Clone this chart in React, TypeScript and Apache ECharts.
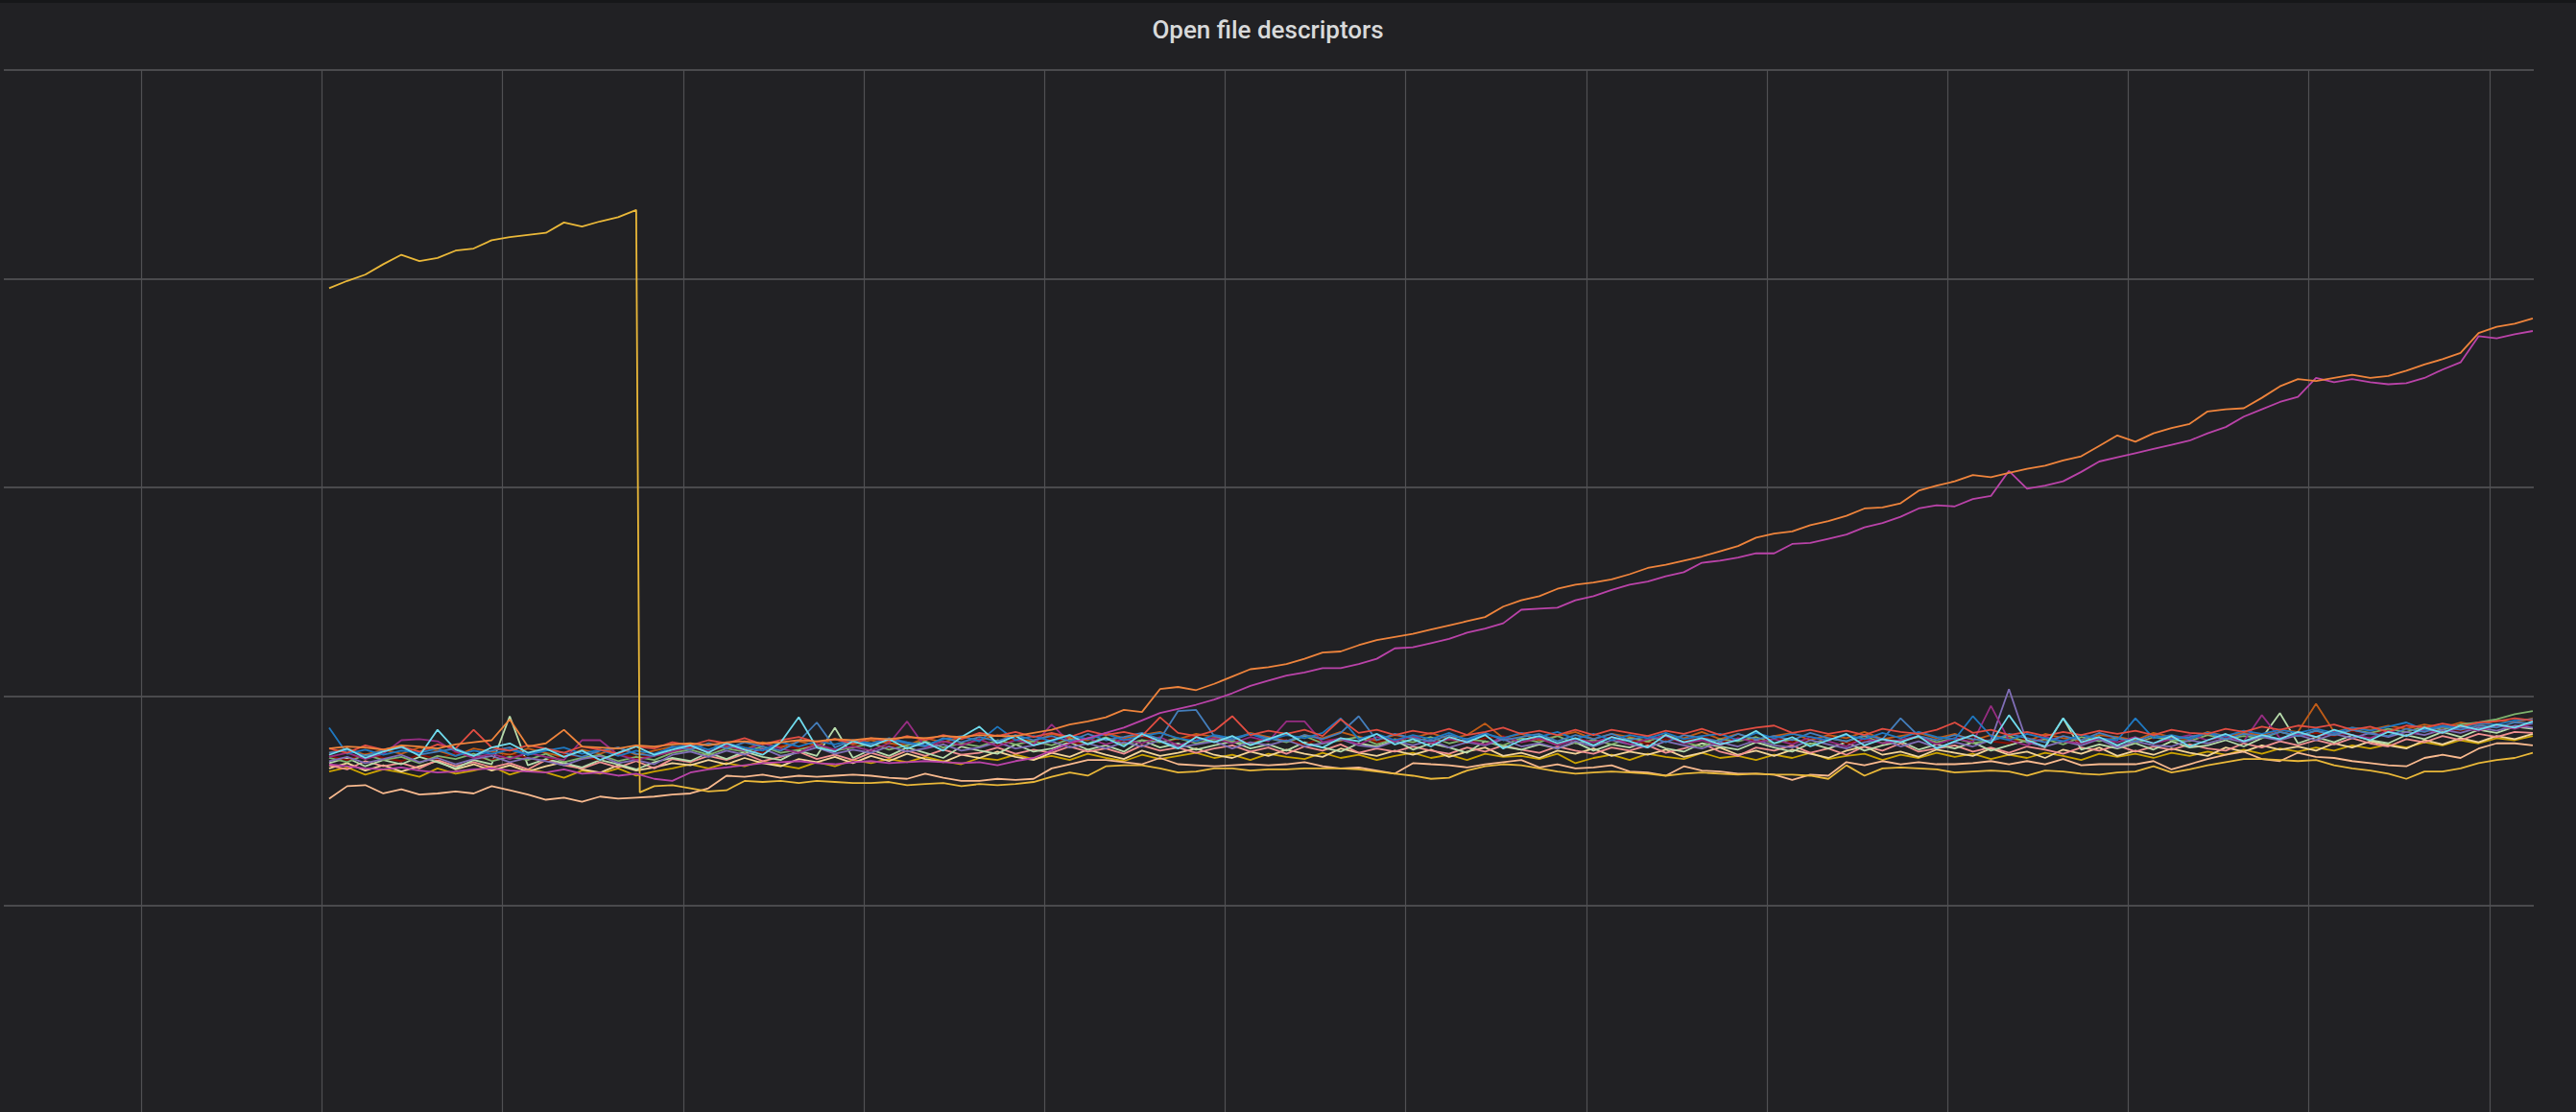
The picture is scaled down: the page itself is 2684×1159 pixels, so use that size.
import React, { useEffect, useRef } from "react";
import * as echarts from "echarts";

const TITLE = "Open file descriptors";
const T_START = 1.04;
const T_STEP = 0.1;
// moment where the high yellow series falls back into the band
const YELLOW_DROP_TIME = 2.76;
const YELLOW_DROP_VALUE = 108;

const yellow = [
  591, 598, 604, 614, 623, 617, 620, 627, 629, 637,
  640, 642, 644, 654, 650, 655, 659, 666, 114, 115,
  112, 109, 110, 119, 118, 119, 117, 119, 118, 117,
  117, 118, 115, 116, 117, 114, 116, 115, 116, 118,
  123, 127, 124, 133, 134, 134, 131, 127, 128, 131,
  131, 129, 130, 130, 131, 131, 131, 130, 128, 126,
  124, 121, 122, 129, 133, 135, 134, 131, 128, 126,
  127, 128, 127, 126, 124, 126, 127, 126, 125, 126,
  125, 125, 124, 121, 134, 124, 131, 132, 131, 130,
  127, 128, 129, 128, 124, 129, 128, 126, 125, 127,
  128, 133, 127, 130, 134, 137, 140, 140, 139, 138,
  139, 134, 131, 129, 126, 121, 128, 128, 131, 136,
  139, 141, 146,
];

const orange = [
  150, 152, 151, 149, 153, 152, 150, 154, 156, 158,
  178, 152, 155, 168, 152, 151, 150, 153, 152, 154,
  155, 153, 156, 157, 155, 156, 158, 157, 159, 158,
  160, 159, 161, 160, 162, 161, 163, 162, 162, 165,
  168, 173, 176, 180, 187, 185, 207, 209, 206, 212,
  219, 226, 228, 231, 236, 242, 243, 249, 254, 257,
  260, 264, 268, 272, 276, 286, 292, 296, 303, 307,
  309, 312, 317, 323, 326, 330, 334, 339, 344, 352,
  356, 358, 364, 368, 373, 380, 381, 385, 397, 402,
  406, 412, 410, 414, 418, 421, 426, 430, 440, 450,
  444, 452, 457, 461, 473, 475, 476, 486, 497, 504,
  502, 505, 508, 505, 507, 512, 518, 523, 529, 548,
  554, 557, 562,
];

const magenta = [
  135, 133, 131, 130, 132, 129, 127, 128, 130, 131,
  129, 128, 127, 130, 126, 127, 124, 126, 121, 119,
  127, 130, 132, 134, 136, 137, 138, 136, 135, 137,
  138, 136, 137, 138, 137, 136, 137, 134, 138, 141,
  148, 155, 160, 165, 170, 177, 184, 188, 192, 197,
  203, 210, 215, 220, 223, 227, 227, 231, 236, 246,
  247, 251, 255, 261, 265, 270, 283, 284, 285, 292,
  296, 302, 307, 310, 315, 319, 328, 330, 333, 337,
  337, 346, 347, 351, 355, 362, 366, 372, 380, 383,
  382, 389, 392, 416, 399, 402, 406, 415, 425, 429,
  433, 437, 441, 445, 452, 458, 468, 475, 482, 487,
  505, 501, 504, 501, 499, 500, 505, 513, 520, 545,
  543, 547, 550,
];

const peach = [
  102, 114, 115, 107, 111, 106, 107, 109, 107, 114,
  110, 106, 101, 103, 99, 104, 102, 103, 104, 106,
  107, 112, 124, 123, 125, 122, 124, 123, 124, 125,
  124, 122, 121, 126, 122, 119, 119, 121, 120, 121,
  131, 135, 139, 139, 137, 135, 141, 135, 134, 133,
  134, 135, 134, 135, 137, 133, 131, 132, 129, 126,
  136, 135, 134, 132, 135, 137, 139, 132, 135, 131,
  132, 134, 128, 127, 124, 133, 129, 128, 126, 126,
  125, 120, 125, 124, 137, 134, 138, 135, 137, 135,
  135, 136, 138, 135, 138, 135, 140, 134, 135, 135,
  135, 138, 130, 135, 140, 144, 147, 140, 138, 146,
  142, 141, 138, 136, 134, 133, 141, 144, 141, 150,
  155, 155, 153,
];

const red = [
  150, 146, 153, 149, 152, 147, 154, 150, 168, 151,
  148, 153, 150, 146, 152, 149, 145, 152, 150, 156,
  153, 158, 155, 160, 154, 158, 161, 156, 159, 155,
  160, 157, 162, 158, 163, 159, 165, 162, 166, 161,
  165, 161, 167, 163, 166, 162, 180, 165, 162, 167,
  181, 163, 167, 164, 168, 162, 178, 165, 168, 163,
  167, 164, 169, 163, 166, 170, 164, 167, 163, 168,
  163, 168, 165, 162, 167, 164, 169, 163, 167, 170,
  172, 165, 168, 164, 167, 163, 169, 166, 164, 168,
  175, 165, 168, 163, 166, 162, 166, 163, 167, 164,
  167, 163, 168, 165, 164, 169, 166, 171, 168, 172,
  170, 173, 168, 171, 166, 172, 170, 174, 171, 175,
  176, 179, 177,
];

const blue = [
  170, 145, 149, 144, 148, 146, 150, 143, 148, 145,
  149, 144, 148, 151, 145, 149, 143, 148, 145, 151,
  154, 149, 155, 151, 148, 156, 152, 157, 154, 158,
  155, 160, 156, 153, 159, 162, 157, 171, 158, 162,
  157, 163, 159, 164, 158, 162, 165, 160, 157, 163,
  160, 164, 158, 163, 160, 165, 179, 159, 164, 158,
  163, 159, 165, 158, 164, 160, 165, 161, 166, 159,
  164, 158, 163, 160, 165, 159, 162, 164, 158, 165,
  160, 164, 161, 158, 163, 159, 165, 160, 166, 161,
  159, 181, 162, 158, 164, 160, 157, 163, 160, 158,
  179, 160, 163, 159, 165, 162, 167, 164, 168, 165,
  169, 165, 170, 167, 171, 175, 168, 172, 170, 174,
  173, 177, 178,
];

const cyan = [
  144, 150, 141, 147, 152, 143, 168, 149, 143, 151,
  155, 146, 150, 142, 148, 139, 146, 152, 144, 149,
  153, 146, 155, 149, 144, 156, 180, 151, 147, 157,
  152, 159, 150, 156, 148, 161, 171, 155, 162, 153,
  158, 163, 154, 160, 152, 164, 157, 150, 161, 156,
  162, 153, 159, 165, 155, 151, 160, 157, 164, 154,
  159, 152, 161, 156, 163, 150, 158, 162, 155, 160,
  153, 161, 157, 151, 163, 156, 160, 154, 158, 167,
  155, 161, 152, 158, 164, 153, 159, 156, 162, 150,
  157, 163, 155, 182, 158, 152, 179, 156, 161, 153,
  160, 155, 162, 152, 158, 164, 157, 163, 159, 166,
  161, 168, 163, 158, 166, 162, 170, 165, 172, 168,
  173, 170, 176,
];

const steelBlue = [
  146, 149, 143, 148, 151, 144, 147, 150, 143, 148,
  151, 144, 149, 146, 142, 148, 151, 145, 143, 152,
  149, 155, 150, 156, 152, 148, 157, 175, 151, 158,
  153, 159, 155, 152, 160, 156, 161, 157, 163, 158,
  162, 157, 164, 158, 161, 165, 159, 186, 187, 162,
  158, 164, 160, 157, 163, 159, 165, 181, 158, 164,
  160, 157, 163, 159, 165, 158, 161, 164, 157, 163,
  159, 164, 158, 162, 156, 163, 160, 157, 164, 159,
  162, 158, 165, 160, 157, 163, 159, 179, 162, 158,
  163, 159, 157, 164, 160, 156, 162, 158, 165, 160,
  157, 163, 159, 161, 165, 159, 164, 161, 166, 162,
  167, 163, 168, 164, 162, 169, 166, 171, 168, 172,
  170, 175, 174,
];

const plum = [
  142, 146, 140, 145, 158, 159, 157, 147, 141, 145,
  140, 146, 142, 139, 158, 158, 144, 139, 143, 147,
  152, 147, 153, 148, 155, 150, 146, 154, 149, 152,
  148, 155, 176, 151, 157, 153, 159, 152, 158, 154,
  173, 156, 160, 154, 159, 155, 161, 153, 158, 160,
  155, 161, 157, 176, 176, 156, 160, 154, 161, 157,
  162, 155, 159, 157, 154, 161, 156, 160, 153, 159,
  156, 161, 154, 159, 162, 155, 158, 153, 160, 156,
  159, 154, 161, 157, 152, 160, 155, 158, 162, 154,
  160, 156, 191, 158, 153, 161, 157, 155, 160, 156,
  161, 155, 159, 163, 158, 162, 157, 182, 160, 164,
  161, 166, 163, 160, 167, 162, 168, 165, 170, 167,
  172, 169, 174,
];

const lavender = [
  138, 142, 136, 140, 144, 137, 141, 135, 140, 143,
  137, 141, 138, 134, 140, 143, 136, 139, 135, 144,
  147, 142, 148, 144, 150, 143, 146, 151, 145, 149,
  146, 152, 147, 150, 154, 148, 151, 156, 150, 153,
  157, 151, 155, 150, 156, 152, 158, 151, 154, 157,
  150, 156, 153, 158, 152, 155, 159, 153, 151, 157,
  153, 158, 151, 156, 153, 159, 152, 155, 150, 157,
  152, 158, 154, 151, 157, 153, 150, 156, 152, 158,
  153, 151, 158, 154, 150, 156, 159, 152, 157, 151,
  156, 152, 158, 207, 156, 152, 157, 153, 159, 151,
  157, 153, 152, 158, 155, 160, 156, 161, 158, 163,
  158, 164, 160, 165, 161, 166, 163, 168, 165, 170,
  167, 172, 170,
];

const green = [
  141, 137, 144, 139, 142, 136, 143, 140, 145, 138,
  142, 139, 145, 137, 141, 144, 138, 142, 139, 146,
  149, 144, 150, 147, 152, 146, 149, 153, 148, 151,
  155, 149, 153, 157, 151, 155, 152, 158, 154, 157,
  153, 159, 155, 161, 154, 158, 156, 160, 155, 159,
  157, 154, 160, 156, 162, 155, 158, 161, 154, 159,
  156, 161, 155, 159, 157, 153, 160, 156, 162, 155,
  158, 154, 160, 157, 163, 156, 152, 159, 157, 161,
  155, 159, 154, 160, 157, 162, 155, 158, 161, 156,
  160, 155, 158, 162, 156, 159, 154, 161, 157, 160,
  155, 161, 158, 157, 163, 159, 162, 160, 166, 162,
  167, 163, 168, 165, 169, 166, 171, 168, 173, 175,
  178, 183, 186,
];

const rust = [
  146, 150, 144, 149, 145, 151, 148, 143, 150, 147,
  144, 150, 146, 142, 149, 145, 151, 144, 148, 152,
  150, 155, 152, 149, 156, 151, 157, 153, 159, 154,
  158, 155, 153, 160, 156, 161, 158, 163, 159, 157,
  164, 160, 158, 165, 160, 163, 166, 159, 164, 161,
  158, 165, 161, 157, 163, 160, 166, 161, 158, 163,
  160, 165, 159, 163, 174, 160, 164, 158, 162, 166,
  159, 164, 161, 157, 163, 160, 166, 159, 164, 158,
  162, 165, 158, 163, 160, 166, 159, 162, 165, 160,
  164, 158, 163, 160, 157, 164, 160, 158, 163, 161,
  158, 165, 161, 159, 166, 162, 165, 163, 168, 166,
  193, 166, 170, 168, 172, 169, 173, 170, 175, 172,
  177, 175, 179,
];

const maroon = [
  143, 139, 145, 141, 138, 144, 140, 146, 142, 139,
  145, 141, 138, 144, 142, 139, 145, 141, 143, 147,
  151, 147, 152, 149, 146, 153, 150, 154, 148, 152,
  155, 151, 156, 152, 157, 154, 158, 153, 159, 155,
  160, 156, 154, 160, 157, 162, 156, 159, 161, 157,
  160, 155, 161, 158, 154, 160, 157, 162, 156, 159,
  161, 156, 159, 155, 160, 162, 156, 159, 154, 160,
  156, 161, 158, 155, 159, 157, 162, 156, 160, 158,
  161, 156, 159, 162, 155, 158, 160, 157, 161, 156,
  159, 162, 157, 155, 160, 158, 162, 156, 159, 161,
  157, 160, 162, 158, 163, 160, 164, 161, 166, 163,
  165, 162, 167, 164, 168, 172, 166, 170, 167, 171,
  173, 171, 175,
];

const mint = [
  136, 141, 133, 139, 135, 142, 137, 131, 139, 135,
  181, 134, 140, 136, 132, 139, 135, 130, 137, 141,
  138, 146, 140, 147, 142, 139, 148, 143, 170, 141,
  149, 143, 151, 146, 141, 152, 148, 145, 154, 147,
  150, 156, 149, 153, 147, 158, 151, 155, 149, 153,
  157, 150, 154, 148, 156, 151, 147, 155, 152, 158,
  149, 155, 151, 146, 157, 152, 149, 154, 150, 156,
  148, 154, 151, 157, 150, 147, 155, 152, 149, 156,
  151, 147, 155, 150, 156, 148, 153, 157, 149, 154,
  150, 156, 148, 153, 158, 151, 179, 149, 154, 150,
  155, 149, 157, 151, 153, 158, 152, 160, 184, 155,
  161, 156, 163, 158, 155, 163, 159, 166, 161, 168,
  165, 171, 169,
];

const pink = [
  134, 130, 138, 133, 136, 131, 139, 133, 137, 132,
  136, 130, 139, 134, 131, 137, 132, 138, 131, 140,
  137, 143, 139, 145, 138, 142, 147, 140, 144, 139,
  146, 141, 148, 143, 149, 144, 146, 151, 145, 149,
  146, 152, 147, 150, 145, 153, 148, 151, 146, 150,
  153, 147, 151, 145, 152, 148, 154, 146, 150, 147,
  152, 148, 145, 151, 147, 153, 149, 146, 152, 148,
  145, 151, 148, 153, 146, 150, 155, 147, 143, 151,
  148, 153, 146, 150, 144, 152, 148, 155, 147, 150,
  153, 147, 151, 146, 152, 149, 145, 151, 148, 153,
  147, 152, 149, 154, 150, 148, 155, 151, 157, 153,
  158, 154, 160, 155, 152, 159, 156, 162, 158, 164,
  161, 166, 165,
];

const cream = [
  131, 136, 129, 134, 128, 133, 138, 130, 135, 129,
  134, 128, 133, 137, 130, 127, 134, 129, 132, 136,
  134, 139, 135, 141, 136, 133, 140, 137, 142, 136,
  143, 138, 145, 140, 137, 144, 141, 147, 142, 139,
  146, 142, 149, 144, 140, 148, 143, 146, 150, 144,
  141, 147, 143, 149, 145, 142, 150, 146, 143, 148,
  144, 149, 142, 147, 151, 143, 146, 141, 148, 145,
  150, 143, 147, 144, 149, 142, 146, 151, 144, 148,
  143, 149, 145, 141, 148, 152, 144, 147, 142, 149,
  146, 143, 150, 144, 147, 141, 149, 145, 151, 143,
  148, 144, 150, 146, 143, 151, 147, 153, 149, 152,
  148, 155, 151, 157, 153, 150, 158, 154, 160, 156,
  162, 159, 164,
];

const mustard = [
  128, 132, 125, 130, 127, 123, 131, 126, 129, 133,
  125, 130, 127, 122, 129, 126, 131, 124, 128, 131,
  135, 131, 136, 133, 138, 134, 131, 137, 133, 139,
  136, 140, 137, 142, 138, 135, 141, 139, 144, 140,
  143, 139, 145, 141, 138, 144, 140, 143, 146, 141,
  144, 139, 145, 142, 140, 146, 141, 144, 139, 143,
  146, 141, 144, 139, 145, 142, 143, 140, 145, 136,
  141, 144, 139, 145, 142, 140, 146, 141, 143, 139,
  144, 141, 146, 140, 143, 145, 139, 144, 141, 146,
  142, 145, 140, 144, 141, 146, 143, 139, 145, 142,
  145, 141, 146, 143, 147, 144, 149, 145, 150, 147,
  151, 148, 153, 150, 154, 151, 156, 153, 158, 155,
  160, 158, 162,
];

const SERIES = [
  { name: "s05", color: "#CCA300", values: mustard },
  { name: "s06", color: "#F4D598", values: cream },
  { name: "s07", color: "#F29191", values: pink },
  { name: "s08", color: "#B7DBAB", values: mint },
  { name: "s09", color: "#890F02", values: maroon },
  { name: "s10", color: "#C15C17", values: rust },
  { name: "s11", color: "#7EB26D", values: green },
  { name: "s12", color: "#806EB7", values: lavender },
  { name: "s13", color: "#962D82", values: plum },
  { name: "s14", color: "#447EBC", values: steelBlue },
  { name: "s15", color: "#1F78C1", values: blue },
  { name: "s16", color: "#E24D42", values: red },
  { name: "s17", color: "#70DBED", values: cyan },
  { name: "s04", color: "#F9BA8F", values: peach },
  { name: "s01", color: "#EAB839", values: yellow },
  { name: "s03", color: "#BA43A9", values: magenta },
  { name: "s02", color: "#EF843C", values: orange },
];

const GRID_COLOR = "#505053";
const hidden = { show: false };

export default function App() {
  const ref = useRef<HTMLDivElement>(null);
  useEffect(() => {
    document.body.style.margin = "0";
    document.body.style.background = "#212124";
    const chart = echarts.init(ref.current as HTMLDivElement, null, { renderer: "svg" });
    const times = yellow.map((_, i) => Math.round((T_START + i * T_STEP) * 100) / 100);
    const toPairs = (values: number[]) => values.map((v, i) => [times[i], v]);
    const seriesData = (s: { values: number[] }) => {
      const pairs = toPairs(s.values);
      if (s.values === yellow) {
        const cut = pairs.findIndex((p) => p[0] > YELLOW_DROP_TIME);
        pairs.splice(cut, 0, [YELLOW_DROP_TIME, YELLOW_DROP_VALUE]);
      }
      return pairs;
    };
    chart.setOption({
      animation: false,
      backgroundColor: "#212124",
      graphic: [
        { type: "rect", shape: { x: 0, y: 0, width: 2684, height: 3 }, style: { fill: "#161719" }, z: 10 },
        {
          type: "text",
          x: 1321,
          y: 31,
          z: 10,
          style: {
            text: TITLE,
            fill: "#d8d9da",
            fontSize: 26,
            fontWeight: 500,
            fontFamily: "Roboto",
            align: "center",
            verticalAlign: "middle",
          },
        },
      ],
      grid: [
        { left: -41, right: -98, top: 73, bottom: -2, outerBoundsMode: "none" },
        { left: 4, right: 44, top: 73, bottom: -2, outerBoundsMode: "none" },
      ],
      xAxis: [
        {
          type: "value",
          gridIndex: 0,
          min: -1,
          max: 14,
          interval: 1,
          axisLine: hidden,
          axisTick: hidden,
          axisLabel: hidden,
          splitLine: { show: true, lineStyle: { color: GRID_COLOR, width: 1.2 } },
        },
        { type: "value", gridIndex: 1, min: 0, max: 1, show: false },
      ],
      yAxis: [
        {
          type: "value",
          gridIndex: 0,
          min: -200,
          max: 800,
          interval: 200,
          axisLine: hidden,
          axisTick: hidden,
          axisLabel: hidden,
          splitLine: hidden,
        },
        {
          type: "value",
          gridIndex: 1,
          min: -200,
          max: 800,
          interval: 200,
          axisLine: hidden,
          axisTick: hidden,
          axisLabel: hidden,
          splitLine: { show: true, lineStyle: { color: "#58585b", width: 1.6 } },
        },
      ],
      series: SERIES.map((s) => ({
        type: "line",
        name: s.name,
        xAxisIndex: 0,
        yAxisIndex: 0,
        data: seriesData(s),
        showSymbol: false,
        symbol: "none",
        silent: true,
        lineStyle: { width: 1.8, color: s.color },
        itemStyle: { color: s.color },
      })),
    });
    return () => chart.dispose();
  }, []);
  return <div ref={ref} style={{ width: 2684, height: 1159 }} />;
}
